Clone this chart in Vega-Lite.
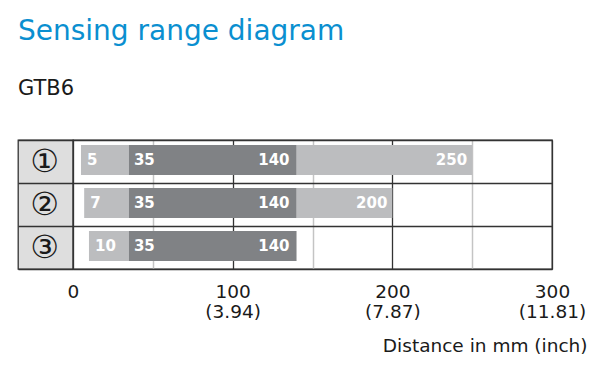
{
  "$schema": "https://vega.github.io/schema/vega-lite/v6.json",
  "padding": {"left": 17, "top": 18, "right": 12, "bottom": 10},
  "background": "white",
  "title": {
    "text": "Sensing range diagram",
    "subtitle": "GTB6",
    "anchor": "start",
    "font": "DejaVu Sans",
    "fontSize": 28,
    "fontWeight": "normal",
    "color": "#0a8fd0",
    "subtitleFont": "DejaVu Sans",
    "subtitleFontSize": 21,
    "subtitleColor": "#1a1a1a",
    "subtitlePadding": 32,
    "offset": 40,
    "frame": "group"
  },
  "config": {
    "font": "DejaVu Sans",
    "view": {"stroke": "#333333", "strokeWidth": 1.3},
    "axis": {"minExtent": 0, "maxExtent": 0}
  },
  "datasets": {
    "ranges": [
      {"row": "①", "min": 5, "near": 35, "far": 140, "max": 250},
      {"row": "②", "min": 7, "near": 35, "far": 140, "max": 200},
      {"row": "③", "min": 10, "near": 35, "far": 140, "max": null}
    ]
  },
  "spacing": 0,
  "bounds": "flush",
  "hconcat": [
    {
      "width": 55,
      "height": 129,
      "data": {"name": "ranges"},
      "view": {"fill": "#dedede", "stroke": "#333333", "strokeWidth": 1.3},
      "mark": {"type": "text", "font": "DejaVu Sans", "fontSize": 32, "color": "#1a1a1a", "baseline": "middle", "align": "center", "dx": -1},
      "encoding": {
        "y": {
          "field": "row", "type": "nominal", "sort": null,
          "scale": {"paddingInner": 0, "paddingOuter": 0},
          "axis": {"labels": false, "ticks": false, "domain": false, "title": null, "grid": true, "tickBand": "extent", "gridColor": "#333333", "gridWidth": 1.3}
        },
        "text": {"field": "row"}
      }
    },
    {
      "width": 479,
      "height": 129,
      "data": {"name": "ranges"},
      "encoding": {
        "y": {
          "field": "row", "type": "nominal", "sort": null,
          "scale": {"paddingInner": 0, "paddingOuter": 0},
          "axis": {"labels": false, "ticks": false, "domain": false, "title": null, "grid": true, "tickBand": "extent", "gridColor": "#333333", "gridWidth": 1.3}
        }
      },
      "layer": [
        {
          "mark": {"type": "bar", "color": "#bcbdbf", "height": 30, "yOffset": -1.5},
          "encoding": {
            "x": {
              "field": "min", "type": "quantitative",
              "scale": {"domain": [0, 300], "nice": false, "zero": false},
              "axis": {
                "values": [0, 50, 100, 150, 200, 250, 300],
                "domain": false,
                "ticks": false,
                "tickSize": 0,
                "grid": true,
                "gridColor": {"condition": {"test": "datum.value % 100 === 0", "value": "#333333"}, "value": "#c4c4c4"},
                "gridWidth": {"condition": {"test": "datum.value % 100 === 0", "value": 1.3}, "value": 1.5},
                "labelExpr": "datum.value === 0 ? '0' : datum.value === 100 ? ['100', '(3.94)'] : datum.value === 200 ? ['200', '(7.87)'] : datum.value === 300 ? ['300', '(11.81)'] : ''",
                "labelFont": "DejaVu Sans",
                "labelFontSize": 18.5,
                "labelColor": "#1a1a1a",
                "labelPadding": 13,
                "labelLineHeight": 20,
                "labelOverlap": false,
                "labelFlush": false,
                "title": "Distance in mm (inch)",
                "titleFont": "DejaVu Sans",
                "titleFontSize": 18.5,
                "titleFontWeight": "normal",
                "titleColor": "#1a1a1a",
                "titleAlign": "right",
                "titleBaseline": "alphabetic",
                "titleX": 514,
                "titleY": 82
              }
            },
            "x2": {"field": "near"}
          }
        },
        {
          "transform": [{"filter": "datum.max != null"}],
          "mark": {"type": "bar", "color": "#bcbdbf", "height": 30, "yOffset": -1.5},
          "encoding": {
            "x": {"field": "far", "type": "quantitative"},
            "x2": {"field": "max"}
          }
        },
        {
          "mark": {"type": "bar", "color": "#808285", "height": 30, "yOffset": -1.5},
          "encoding": {
            "x": {"field": "near", "type": "quantitative"},
            "x2": {"field": "far"}
          }
        },
        {
          "mark": {"type": "text", "font": "DejaVu Sans", "fontWeight": "bold", "fontSize": 15, "color": "white", "align": "left", "baseline": "middle", "dx": 6, "yOffset": -1.5},
          "encoding": {"x": {"field": "min", "type": "quantitative"}, "text": {"field": "min"}}
        },
        {
          "mark": {"type": "text", "font": "DejaVu Sans", "fontWeight": "bold", "fontSize": 15, "color": "white", "align": "left", "baseline": "middle", "dx": 5, "yOffset": -1.5},
          "encoding": {"x": {"field": "near", "type": "quantitative"}, "text": {"field": "near"}}
        },
        {
          "mark": {"type": "text", "font": "DejaVu Sans", "fontWeight": "bold", "fontSize": 15, "color": "white", "align": "right", "baseline": "middle", "dx": -7, "yOffset": -1.5},
          "encoding": {"x": {"field": "far", "type": "quantitative"}, "text": {"field": "far"}}
        },
        {
          "transform": [{"filter": "datum.max != null"}],
          "mark": {"type": "text", "font": "DejaVu Sans", "fontWeight": "bold", "fontSize": 15, "color": "white", "align": "right", "baseline": "middle", "dx": -5, "yOffset": -1.5},
          "encoding": {"x": {"field": "max", "type": "quantitative"}, "text": {"field": "max"}}
        }
      ]
    }
  ]
}
